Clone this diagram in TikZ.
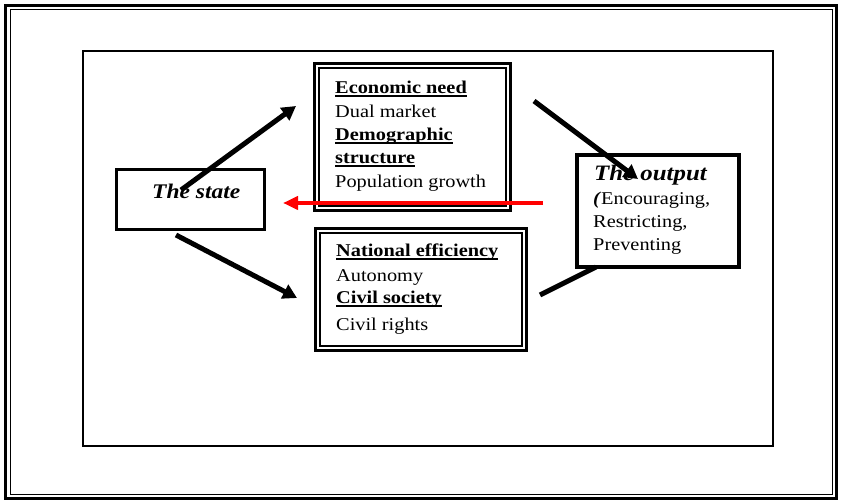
\documentclass[tikz,border=0pt]{standalone}
\usepackage{fontspec}
\setmainfont[FakeStretch=1.13]{Liberation Serif}
\usetikzlibrary{arrows.meta}
\newsavebox\myulbox
\newcommand\hul[1]{\sbox\myulbox{\textbf{#1}}\rlap{\rule[-3.3pt]{\wd\myulbox}{2.2pt}}\usebox\myulbox}
\begin{document}
\begin{tikzpicture}[x=1pt,y=-1pt,
  body/.style={font=\fontsize{18}{20}\selectfont, inner sep=0pt, anchor=base west},
  titletext/.style={font=\fontsize{20.8}{22}\selectfont\bfseries\itshape, inner sep=0pt, anchor=base west},
  framebox/.style={draw, fill=white, inner sep=0pt, outer sep=0pt},
  arr/.style={line width=5pt, -{Triangle[length=14pt,width=15pt]}},
  redarr/.style={draw=red, line width=4pt, -{Triangle[length=15pt,width=13pt]}}]
\useasboundingbox (0,0) rectangle (841,502);
% page frames
\draw[line width=3.5pt] (5.5,5.5) rectangle (836.5,498.5);
\draw[line width=1pt] (10,10) rectangle (832,494);
\draw[line width=1.3pt] (83,51) rectangle (773,446);
% boxes
\node[framebox, line width=3.4pt, minimum width=195.6pt, minimum height=146.6pt] (econ) at (412.5,137) {};
\draw[line width=1.5pt] ([shift={(4.5,4.5)}]econ.north west) rectangle ([shift={(-4.5,-4.5)}]econ.south east);
\node[framebox, line width=3.4pt, minimum width=210.6pt, minimum height=121.6pt] (natl) at (421,289.5) {};
\draw[line width=1.5pt] ([shift={(4.5,4.5)}]natl.north west) rectangle ([shift={(-4.5,-4.5)}]natl.south east);
\node[framebox, line width=3.3pt, minimum width=147.6pt, minimum height=59.6pt] (state) at (190.5,199.5) {};
\node[framebox, line width=3.6pt, minimum width=162.4pt, minimum height=112.4pt] (output) at (658,211) {};
% texts
\node[body] (t1) at (335,94) {\hul{Economic need}};
\node[body] (t2) at (335,118) {Dual market};
\node[body] (t3) at (335,141) {\hul{Demographic}};
\node[body] (t4) at (335,164) {\hul{structure}};
\node[body] (t5) at (335,188) {Population growth};
\node[body] (n1) at (336,257) {\hul{National efficiency}};
\node[body] (n2) at (336,282) {Autonomy};
\node[body] (n3) at (336,304) {\hul{Civil society}};
\node[body] (n4) at (336,331) {Civil rights};
\node[titletext] (st) at (152,199) {The state};
\node[titletext, font=\fontsize{22}{24}\selectfont\bfseries\itshape] (o1) at (594,181) {The output};
\node[body] (o2) at (593,205) {\textbf{\textit{(}}Encouraging,};
\node[body] (o3) at (593,228) {Restricting,};
\node[body] (o4) at (593,251) {Preventing};
% connector end points
\coordinate (a1s) at (181,190);
\coordinate (a1e) at (296,106);
\coordinate (a2s) at (176,235);
\coordinate (a2e) at (297,298);
\coordinate (a3s) at (534,101);
\coordinate (a3e) at (638,179);
\coordinate (l1s) at (540,295);
\coordinate (l1e) at (596,267);
\coordinate (rs) at (543,203);
\coordinate (re) at (283,203);
% arrows
\draw[arr] (a1s) -- (a1e);
\draw[arr] (a2s) -- (a2e);
\draw[arr] (a3s) -- (a3e);
\draw[line width=5pt] (l1s) -- (l1e);
\draw[redarr] (rs) -- (re);
\end{tikzpicture}
\end{document}
